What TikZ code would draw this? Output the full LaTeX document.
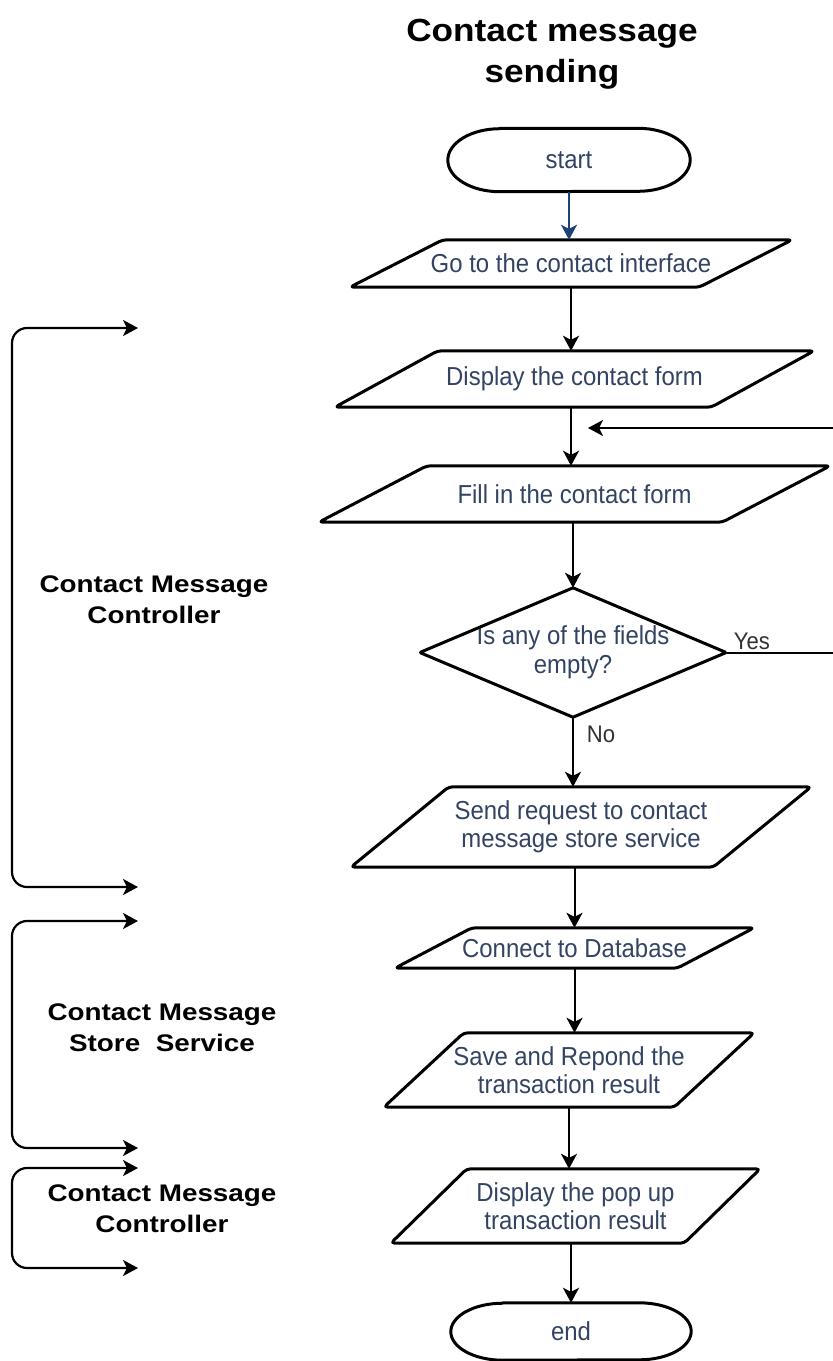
\documentclass[tikz,border=0pt]{standalone}
\usepackage{fontspec}
\setmainfont{Liberation Sans}
\newfontfamily\nodefont{Liberation Sans}[FakeStretch=0.92]
\newfontfamily\headfont{Liberation Sans}[FakeStretch=1.1]
\newfontfamily\lanefont{Liberation Sans}[FakeStretch=1.16]
\usetikzlibrary{arrows.meta}

\definecolor{nodeblue}{RGB}{50,68,98}
\definecolor{startblue}{RGB}{28,66,120}
\definecolor{labelgray}{RGB}{50,50,50}

% outline of an input/output parallelogram around a named node
\newcommand\ioshape[2]{%
  \draw[outline] ([xshift=#2]#1.north west) -- (#1.north east)
    -- ([xshift=-#2]#1.south east) -- (#1.south west) -- cycle;}
% outline of a terminator (flat top and bottom, elliptic ends)
\newcommand\termshape[3]{%
  \draw[outline, rounded corners=0pt] ([xshift=#2]#1.north west) -- ([xshift=-#2]#1.north east)
    arc[start angle=90, end angle=-90, x radius=#2, y radius=#3]
    -- ([xshift=#2]#1.south west)
    arc[start angle=270, end angle=90, x radius=#2, y radius=#3] -- cycle;}

\tikzset{
  outline/.style={draw=black, line width=3pt, rounded corners=4pt, line join=round},
  boxtext/.style={inner sep=0pt, align=center, text=nodeblue,
    font=\nodefont\fontsize{26pt}{28.5pt}\selectfont},
  flowlabel/.style={inner sep=0pt, text=labelgray,
    font=\nodefont\fontsize{24pt}{28pt}\selectfont},
  lanelabel/.style={inner sep=0pt, align=center, text=black,
    font=\lanefont\bfseries\fontsize{24pt}{31pt}\selectfont},
  titlelabel/.style={inner sep=0pt, align=center, text=black,
    font=\headfont\bfseries\fontsize{32pt}{41pt}\selectfont},
  tip/.style={-{Stealth[length=15pt, width=16pt, inset=4pt]}},
  flow/.style={draw=black, line width=2pt, tip},
  plainline/.style={draw=black, line width=2pt},
  lane/.style={draw=black, line width=2.2pt, rounded corners=15pt,
    {Stealth[length=15pt, width=16pt, inset=4pt]}-{Stealth[length=15pt, width=16pt, inset=4pt]}},
}

\begin{document}
\begin{tikzpicture}[x=1pt, y=-1pt]
  \fill[white] (0,0) rectangle (833,1361);
  \useasboundingbox (0,0) rectangle (833,1361);

  % heading
  \node[titlelabel] (title) at (552,54) {Contact message\\sending};

  % flow nodes
  \node[boxtext, minimum width=242pt, minimum height=63pt] (start) at (569,160) {start};
  \node[boxtext, minimum width=442pt, minimum height=47pt] (go) at (571,263.5) {Go to the contact interface};
  \node[boxtext, minimum width=479pt, minimum height=56pt] (disp) at (574.5,379) {Display the contact form};
  \node[boxtext, minimum width=511pt, minimum height=56pt] (fill) at (574.5,494) {Fill in the contact form};
  \node[boxtext, minimum width=306pt, minimum height=129pt] (dia) at (573,652.5) {Is any of the fields\\empty?};
  \node[boxtext, minimum width=460pt, minimum height=80pt] (send) at (581,827) {Send request to contact\\message store service};
  \node[boxtext, minimum width=359pt, minimum height=40pt] (conn) at (574.5,948) {Connect to Database};
  \node[boxtext, minimum width=370pt, minimum height=74pt] (save) at (569,1070) {Save and Repond the\\transaction result};
  \node[boxtext, minimum width=369pt, minimum height=74pt] (pop) at (575.5,1206) {Display the pop up\\transaction result};
  \node[boxtext, minimum width=240pt, minimum height=57pt] (end) at (571,1331.5) {end};

  % outlines
  \termshape{start}{52pt}{31.5pt}
  \ioshape{go}{93pt}
  \ioshape{disp}{103pt}
  \ioshape{fill}{108pt}
  \draw[outline, rounded corners=1pt] (dia.north) -- (dia.east) -- (dia.south) -- (dia.west) -- cycle;
  \ioshape{send}{98pt}
  \ioshape{conn}{77pt}
  \ioshape{save}{80pt}
  \ioshape{pop}{76pt}
  \termshape{end}{52pt}{28.5pt}

  % connectors
  \draw[flow, draw=startblue, -{Stealth[length=15pt, width=16pt, inset=4pt, fill=startblue]}]
    (start.south) -- (start.south |- go.north);
  \draw[flow] (go.south) -- (go.south |- disp.north);
  \draw[flow] (disp.south -| go.south) -- (go.south |- fill.north);
  \draw[flow] (dia.north |- fill.south) -- (dia.north);
  \draw[flow] (dia.south) -- (dia.south |- send.north);
  \draw[flow] (conn.north |- send.south) -- (conn.north);
  \draw[flow] (conn.south) -- (conn.south |- save.north);
  \draw[flow] (save.south) -- (save.south |- pop.north);
  \draw[flow] (end.north |- pop.south) -- (end.north);

  % "Yes" branch back to the form
  \coordinate (yesEnd) at (833,652.5);
  \coordinate (loopIn) at (833,428);
  \coordinate (loopTip) at (588,428);
  \draw[plainline] (dia.east) -- (yesEnd);
  \draw[flow] (loopIn) -- (loopTip);
  \node[flowlabel] (yes) at (752,641) {Yes};
  \node[flowlabel] (no) at (601,734) {No};

  % component brackets on the left
  \coordinate (rail) at (12,0);
  \coordinate (laneAtop) at (138,328);
  \coordinate (laneAbot) at (138,887);
  \coordinate (laneBtop) at (138,921);
  \coordinate (laneBbot) at (138,1148);
  \coordinate (laneCtop) at (138,1168);
  \coordinate (laneCbot) at (138,1268);
  \draw[lane] (laneAtop) -- (laneAtop -| rail) -- (laneAbot -| rail) -- (laneAbot);
  \draw[lane] (laneBtop) -- (laneBtop -| rail) -- (laneBbot -| rail) -- (laneBbot);
  \draw[lane] (laneCtop) -- (laneCtop -| rail) -- (laneCbot -| rail) -- (laneCbot);

  \node[lanelabel] (laneA) at (154,600) {Contact Message\\Controller};
  \node[lanelabel] (laneB) at (162,1028) {Contact Message\\Store\ \ Service};
  \node[lanelabel] (laneC) at (162,1208.5) {Contact Message\\Controller};
\end{tikzpicture}
\end{document}
